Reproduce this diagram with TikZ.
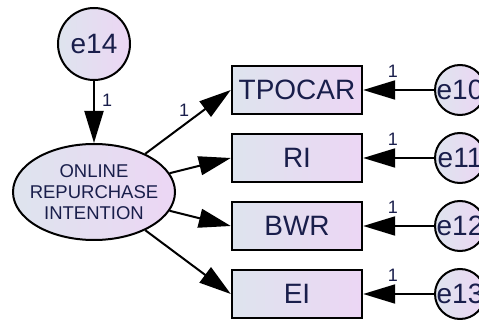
\documentclass[tikz,border=0pt]{standalone}
\usepackage{fontspec}
\setmainfont{Liberation Sans}
\usetikzlibrary{arrows.meta,shapes.geometric}

\definecolor{amosleft}{RGB}{222,228,238}
\definecolor{amosright}{RGB}{236,214,244}
\definecolor{amostext}{RGB}{25,30,75}

\tikzset{
    obs/.style={draw, rectangle, line width=2.4pt, minimum width=130pt, minimum height=48pt,
        inner sep=0pt, left color=amosleft, right color=amosright,
        text=amostext, font=\fontsize{28}{30}\selectfont},
    errc/.style={draw, circle, line width=2pt, inner sep=0pt,
        left color=amosleft, right color=amosright,
        text=amostext, font=\fontsize{28}{30}\selectfont},
    lat/.style={draw, ellipse, line width=2pt, minimum width=162pt, minimum height=96pt,
        inner sep=0pt, left color=amosleft, right color=amosright},
    regline/.style={line width=2pt, -{Triangle[length=32pt,width=19pt]}},
    one/.style={inner sep=0pt, text=amostext, font=\fontsize{18}{18}\selectfont}
}

\begin{document}
\begin{tikzpicture}[x=1pt, y=-1pt]
    \useasboundingbox (0,0) rectangle (479,320);

    % Latent variable and its disturbance
    \node[errc, minimum size=72pt] (e14) at (94,44) {e14};
    \node[lat, label={[text=amostext, align=center, font=\fontsize{18.5}{21}\selectfont]center:ONLINE\\REPURCHASE\\INTENTION}] (orl) at (94,192) {};
    \draw[regline] (e14) -- node[one, right=7pt, pos=0.31] {1} (orl);

    % Indicators with their error terms
    \foreach \lbl/\y/\e in {TPOCAR/90/10, RI/158/11, BWR/226/12, EI/294/13} {
        \node[obs] (\lbl) at (297,\y) {\lbl};
        \node[errc, minimum size=50pt, label={[text=amostext, font=\fontsize{28}{30}\selectfont]center:e\e}] (e\e) at (460,\y) {};
        \draw[regline] (e\e) -- node[one, above=11pt, pos=0.58] {1} (\lbl);
    }

    % Loadings
    \draw[regline] (orl) -- node[one, anchor=south east, xshift=-4pt, pos=0.57] {1} (TPOCAR.west);
    \foreach \lbl in {RI,BWR,EI}
        \draw[regline] (orl) -- (\lbl.west);
\end{tikzpicture}
\end{document}
